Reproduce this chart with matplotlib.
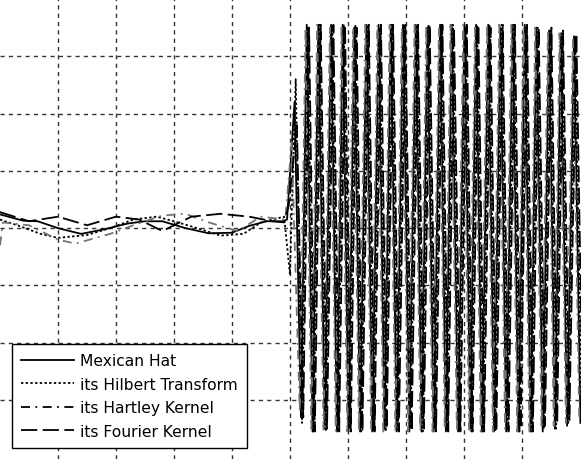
import matplotlib
matplotlib.use("Agg")
import matplotlib.pyplot as plt

# series (x in grid units, y in grid units)
hat_x = [0.0, 0.4, 0.65, 1.0, 1.4, 1.8, 2.2, 2.5, 2.8, 3.2, 3.6, 4.0, 4.3, 4.6,
         4.88, 4.95, 5.08,
         5.19, 5.29, 5.39, 5.49, 5.60, 5.71, 5.81, 5.91, 6.01, 6.11,
         6.21, 6.32, 6.42, 6.53, 6.63, 6.74, 6.84, 6.95, 7.06, 7.17,
         7.27, 7.37, 7.48, 7.59, 7.69, 7.79, 7.90, 8.01, 8.11, 8.21,
         8.31, 8.42, 8.52, 8.63, 8.73, 8.84, 8.94, 9.05, 9.15, 9.25,
         9.36, 9.47, 9.57, 9.67, 9.78, 9.90, 10.01]
hat_y = [0.24, 0.13, 0.12, 0.0, -0.1, -0.02, 0.08, 0.12, 0.12, 0.0, -0.09, -0.08, 0.04, 0.12,
         0.12, 0.15, 2.2,
         -3.3, 3.55, -3.55, 3.55, -3.5, 3.55, -3.55, 3.55, -3.55, 3.5,
         -3.55, 3.55, -3.55, 3.55, -3.5, 3.55, -3.55, 3.55, -3.55, 3.55,
         -3.55, 3.5, -3.55, 3.55, -3.55, 3.55, -3.55, 3.55, -3.5, 3.55,
         -3.55, 3.55, -3.55, 3.5, -3.55, 3.55, -3.55, 3.55, -3.55, 3.5,
         -3.55, 3.45, -3.5, 3.4, -3.45, 3.35, -3.4]

hil_x = [0.0, 0.3, 0.7, 1.0, 1.5, 1.9, 2.3, 2.7, 3.0, 3.4, 3.8, 4.2, 4.5,
         4.90, 5.00, 5.10,
         5.21, 5.31, 5.41, 5.51, 5.62, 5.73, 5.83, 5.93, 6.03, 6.13,
         6.23, 6.34, 6.44, 6.55, 6.65, 6.76, 6.86, 6.97, 7.08, 7.19,
         7.29, 7.39, 7.50, 7.61, 7.71, 7.81, 7.92, 8.03, 8.13, 8.23,
         8.33, 8.44, 8.54, 8.65, 8.75, 8.86, 8.96, 9.07, 9.17, 9.27,
         9.38, 9.49, 9.59, 9.69, 9.80, 9.92, 10.03]
hil_y = [0.15, 0.05, -0.1, -0.17, -0.12, 0.0, 0.15, 0.2, 0.12, 0.0, -0.13, -0.1, 0.1,
         0.2, -0.8, 2.6,
         -3.4, 3.5, -3.55, 3.55, -3.55, 3.5, -3.55, 3.55, -3.5, 3.55,
         -3.55, 3.55, -3.55, 3.5, -3.55, 3.55, -3.55, 3.55, -3.5, 3.55,
         -3.55, 3.55, -3.5, 3.55, -3.55, 3.55, -3.55, 3.5, -3.55, 3.55,
         -3.55, 3.55, -3.55, 3.55, -3.5, 3.55, -3.55, 3.5, -3.55, 3.5,
         -3.5, 3.45, -3.5, 3.4, -3.4, 3.3, -3.4]

hart_x = [0.0, 0.05, 0.5, 1.0, 1.3, 1.9, 2.3, 2.8, 3.2, 3.6, 4.1, 4.5,
          4.92, 5.03,
          5.17, 5.27, 5.37, 5.47, 5.58, 5.69, 5.79, 5.89, 5.99, 6.09,
          6.19, 6.30, 6.40, 6.51, 6.61, 6.72, 6.82, 6.93, 7.04, 7.15,
          7.25, 7.35, 7.46, 7.57, 7.67, 7.77, 7.88, 7.99, 8.09, 8.19,
          8.29, 8.40, 8.50, 8.61, 8.71, 8.82, 8.92, 9.03, 9.13, 9.23,
          9.34, 9.45, 9.55, 9.65, 9.76, 9.88, 9.99]
hart_y = [-0.3, 0.1, 0.05, -0.2, -0.27, -0.1, 0.05, 0.22, 0.25, 0.1, -0.05, 0.2,
          0.15, 1.5,
          -3.2, 3.5, -3.5, 3.55, -3.55, 3.5, -3.55, 3.55, -3.55, 3.5,
          -3.55, 3.55, -3.5, 3.55, -3.55, 3.55, -3.55, 3.5, -3.55, 3.55,
          -3.55, 3.55, -3.55, 3.5, -3.5, 3.55, -3.55, 3.55, -3.55, 3.5,
          -3.55, 3.55, -3.55, 3.55, -3.5, 3.55, -3.55, 3.5, -3.55, 3.5,
          -3.5, 3.45, -3.45, 3.4, -3.4, 3.3, -3.35]

four_x = [0.0, 0.5, 1.0, 1.5, 2.0, 2.4, 2.8, 3.3, 3.8, 4.3, 4.7,
          4.90, 4.98, 5.12,
          5.23, 5.33, 5.43, 5.53, 5.64, 5.75, 5.85, 5.95, 6.05, 6.15,
          6.25, 6.36, 6.46, 6.57, 6.67, 6.78, 6.88, 6.99, 7.10, 7.21,
          7.31, 7.41, 7.52, 7.63, 7.73, 7.83, 7.94, 8.05, 8.15, 8.25,
          8.35, 8.46, 8.56, 8.67, 8.77, 8.88, 8.98, 9.09, 9.19, 9.29,
          9.40, 9.51, 9.61, 9.71, 9.82, 9.94, 10.05]
four_y = [0.28, 0.12, 0.2, 0.05, 0.2, 0.15, -0.05, 0.2, 0.25, 0.2, 0.12,
          0.1, 0.4, 1.8,
          -3.3, 3.5, -3.55, 3.55, -3.5, 3.55, -3.55, 3.55, -3.55, 3.5,
          -3.55, 3.55, -3.55, 3.55, -3.5, 3.55, -3.55, 3.55, -3.55, 3.55,
          -3.5, 3.55, -3.55, 3.55, -3.55, 3.5, -3.55, 3.55, -3.55, 3.55,
          -3.55, 3.5, -3.55, 3.55, -3.55, 3.55, -3.5, 3.55, -3.55, 3.5,
          -3.45, 3.5, -3.4, 3.45, -3.35, 3.4, -3.3]

labels = ["Mexican Hat", "its Hilbert Transform", "its Hartley Kernel",
          "its Fourier Kernel"]

fig = plt.figure(figsize=(5.81, 4.60), dpi=100)
ax = fig.add_axes([0, 0, 1, 1])

ax.plot(hat_x, hat_y, color="black", lw=1.3, ls="-", label=labels[0])
ax.plot(hil_x, hil_y, color="black", lw=1.3, ls=(0, (1.3, 1.3)), label=labels[1])
ax.plot(hart_x, hart_y, color="0.45", lw=1.3, ls=(0, (5, 3, 1, 3)), label=labels[2])
ax.plot(four_x, four_y, color="black", lw=1.3, ls=(0, (9, 3)), label=labels[3])

ax.set_xlim(0, 10.02)
ax.set_ylim(-4.03, 4.0)
ax.set_xticks(range(1, 10))
ax.set_yticks(range(-3, 4))
ax.tick_params(length=0, labelbottom=False, labelleft=False)
for s in ax.spines.values():
    s.set_visible(False)
ax.grid(True, color="0.2", lw=1.0, ls=(0, (3, 3)))
ax.set_axisbelow(True)

leg = ax.legend(loc="lower left", bbox_to_anchor=(12 / 581, 11 / 460),
                bbox_transform=fig.transFigure, borderaxespad=0,
                fancybox=False, framealpha=1, edgecolor="black",
                prop={"family": "DejaVu Sans", "size": 11.2},
                handlelength=3.4, handletextpad=0.35, borderpad=0.6,
                labelspacing=0.55)
leg.get_frame().set_linewidth(1.0)
for h in leg.get_lines():
    h.set_color("black")

fig.savefig("out.png", dpi=100)
